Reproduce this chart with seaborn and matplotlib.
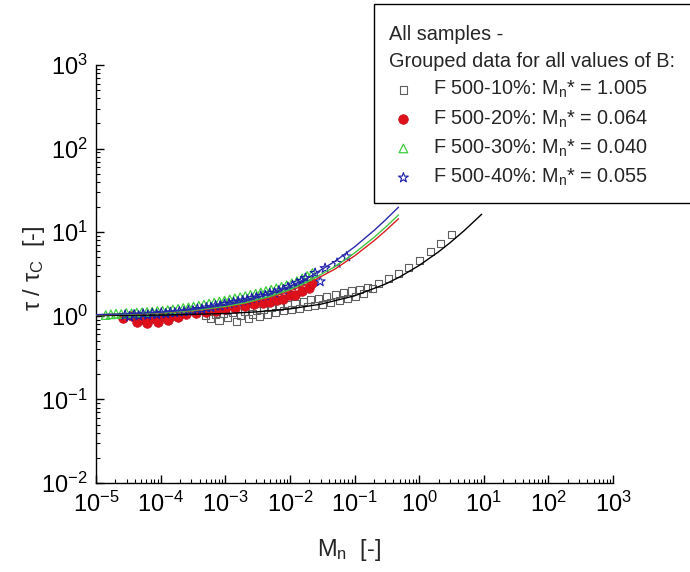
import numpy as np
import pandas as pd
import matplotlib
matplotlib.use("Agg")
import matplotlib.pyplot as plt
from matplotlib.patches import Rectangle
import seaborn as sns

# ---------------- data ----------------
# F 500-10 % : black squares
sq_x = [5.0e-4, 6.0e-4, 7.0e-4, 8.0e-4, 9.5e-4, 1.1e-3, 1.3e-3, 1.5e-3, 1.7e-3, 2.0e-3,
        2.3e-3, 2.6e-3, 3.0e-3, 3.4e-3, 3.9e-3, 4.5e-3, 5.2e-3, 6.0e-3, 7.0e-3, 8.0e-3,
        9.2e-3, 1.05e-2, 1.2e-2, 1.4e-2, 1.6e-2, 1.85e-2, 2.1e-2, 2.4e-2, 2.8e-2, 3.2e-2,
        3.7e-2, 4.3e-2, 5.0e-2, 5.8e-2, 6.7e-2, 7.7e-2, 9.0e-2, 1.05e-1, 1.2e-1, 1.4e-1,
        1.6e-1, 1.9e-1, 2.35e-1, 3.35e-1, 4.8e-1, 6.8e-1, 1.0, 1.48, 2.16, 3.13]
sq_y = [1.00, 0.93, 1.05, 0.88, 1.08, 0.95, 1.10, 0.86, 1.02, 1.12,
        0.92, 1.05, 1.15, 0.98, 1.20, 1.05, 1.25, 1.10, 1.30, 1.15,
        1.35, 1.18, 1.42, 1.22, 1.48, 1.28, 1.55, 1.32, 1.62, 1.38,
        1.70, 1.45, 1.78, 1.52, 1.88, 1.60, 1.98, 1.70, 2.05, 1.85,
        2.20, 2.10, 2.46, 2.82, 3.17, 3.80, 4.57, 5.90, 7.25, 9.50]

# F 500-20 % : red circles
ci_lx = [-4.58, -4.45, -4.37, -4.28, -4.21, -4.12, -4.04, -3.95, -3.89, -3.80,
         -3.73, -3.60, -3.45, -3.30, -3.15, -3.00, -2.85, -2.70, -2.55, -2.42,
         -2.31, -2.20, -2.10, -2.00, -1.92, -1.82, -1.71, -1.66]
ci_y = [0.95, 1.00, 0.85, 0.92, 0.82, 0.95, 0.85, 1.00, 0.90, 1.02,
        0.97, 1.05, 1.08, 1.12, 1.15, 1.20, 1.25, 1.30, 1.38, 1.42,
        1.48, 1.55, 1.60, 1.75, 1.78, 2.00, 2.14, 2.45]

# F 500-30 % : green triangles
tr_lx = [-4.85, -4.77, -4.69, -4.61, -4.53, -4.45, -4.37, -4.29, -4.21, -4.13,
         -4.05, -3.97, -3.89, -3.81, -3.73, -3.65, -3.57, -3.49, -3.41, -3.33,
         -3.25, -3.17, -3.09, -3.01, -2.93, -2.85, -2.77, -2.69, -2.61, -2.53,
         -2.45, -2.37, -2.29, -2.21, -2.13, -2.05, -1.97, -1.89, -1.81, -1.73, -1.65]
tr_y = [1.02, 1.04, 1.06, 1.05, 1.08, 1.07, 1.09, 1.10, 1.11, 1.12,
        1.14, 1.15, 1.17, 1.19, 1.21, 1.24, 1.26, 1.29, 1.32, 1.36,
        1.40, 1.44, 1.48, 1.52, 1.57, 1.62, 1.67, 1.72, 1.78, 1.84,
        1.91, 1.98, 2.05, 2.13, 2.22, 2.32, 2.45, 2.60, 2.80, 3.00, 3.25]

# F 500-40 % : blue stars
st_lx = [-4.55, -4.48, -4.41, -4.34, -4.27, -4.20, -4.13, -4.06, -3.99, -3.92,
         -3.85, -3.78, -3.71, -3.64, -3.57, -3.50, -3.43, -3.36, -3.29, -3.22,
         -3.15, -3.08, -3.01, -2.94, -2.87, -2.80, -2.73, -2.66, -2.59, -2.52,
         -2.45, -2.38, -2.31, -2.24, -2.17, -2.10, -2.03, -1.96, -1.89, -1.82,
         -1.76, -1.61, -1.53, -1.455, -1.27, -1.12]
st_y = [1.02, 0.98, 1.03, 1.00, 1.05, 1.02, 1.06, 1.04, 1.08, 1.06,
        1.10, 1.09, 1.12, 1.12, 1.15, 1.15, 1.20, 1.20, 1.25, 1.26,
        1.32, 1.32, 1.38, 1.40, 1.45, 1.48, 1.52, 1.55, 1.62, 1.65,
        1.72, 1.75, 1.85, 1.88, 2.00, 2.05, 2.20, 2.30, 2.45, 2.60,
        2.82, 3.24, 2.57, 3.70, 4.27, 5.10]

# fitted curves
fit_x_col = [1e-5, 3e-5, 1e-4, 3e-4, 1e-3, 2e-3, 5e-3, 1e-2, 2e-2, 5e-2, 0.1, 0.2, 0.3, 0.48]
fit_blue = [1.032, 1.056, 1.103, 1.181, 1.341, 1.497, 1.832, 2.250, 2.914, 4.486, 6.662, 10.47, 13.98, 19.93]
fit_green = [1.028, 1.048, 1.089, 1.156, 1.294, 1.426, 1.709, 2.058, 2.606, 3.886, 5.634, 8.659, 11.42, 16.08]
fit_red = [1.026, 1.045, 1.083, 1.145, 1.272, 1.395, 1.655, 1.974, 2.473, 3.631, 5.200, 7.900, 10.35, 14.48]
fit_x_blk = [1e-5, 1e-4, 1e-3, 3e-3, 1e-2, 3e-2, 0.1, 0.3, 0.5, 1.0, 2.0, 3.0, 5.0, 9.3]
fit_blk = [1.006, 1.020, 1.064, 1.113, 1.210, 1.376, 1.733, 2.395, 2.914, 4.000, 5.828, 7.464, 10.47, 16.40]

labels = ["F 500-10%: M$_\\mathregular{n}$* = 1.005",
          "F 500-20%: M$_\\mathregular{n}$* = 0.064",
          "F 500-30%: M$_\\mathregular{n}$* = 0.040",
          "F 500-40%: M$_\\mathregular{n}$* = 0.055"]
legend_title = "All samples -\nGrouped data for all values of B:"

# ---------------- style ----------------
sns.set_style("ticks")
plt.rcParams['font.family'] = ['Liberation Sans', 'DejaVu Sans']
plt.rcParams['mathtext.fontset'] = 'custom'
plt.rcParams['mathtext.rm'] = 'Liberation Sans'
plt.rcParams['mathtext.it'] = 'Liberation Sans:italic'
plt.rcParams['mathtext.bf'] = 'Liberation Sans:bold'

fig = plt.figure(figsize=(6.9, 5.72), dpi=100)
W, H = 690, 572
ax = fig.add_axes([96 / W, 1 - 483 / H, (613 - 96) / W, (483 - 65) / H])

# scatter
sns.scatterplot(x=sq_x, y=sq_y, ax=ax, marker='s', s=26, zorder=2)
c_sq = ax.collections[-1]
c_sq.set_facecolor('none'); c_sq.set_edgecolor('#606060'); c_sq.set_linewidth(0.8)

sns.scatterplot(x=10 ** np.array(ci_lx), y=ci_y, ax=ax, marker='o', s=48, zorder=3)
c_ci = ax.collections[-1]
c_ci.set_facecolor('#e0101a'); c_ci.set_edgecolor('#c01020'); c_ci.set_linewidth(0.5)

sns.scatterplot(x=10 ** np.array(tr_lx), y=tr_y, ax=ax, marker='^', s=38, zorder=3)
c_tr = ax.collections[-1]
c_tr.set_facecolor('none'); c_tr.set_edgecolor('#3ccc3c'); c_tr.set_linewidth(0.9)

sns.scatterplot(x=10 ** np.array(st_lx), y=st_y, ax=ax, marker='*', s=55, zorder=4)
c_st = ax.collections[-1]
c_st.set_facecolor('none'); c_st.set_edgecolor('#1c1ca8'); c_st.set_linewidth(0.8)

# fitted lines
sns.lineplot(x=fit_x_blk, y=fit_blk, ax=ax, color='black', lw=1.0, sort=False, estimator=None, zorder=5)
sns.lineplot(x=fit_x_col, y=fit_red, ax=ax, color='#d82020', lw=1.0, sort=False, estimator=None, zorder=5)
sns.lineplot(x=fit_x_col, y=fit_green, ax=ax, color='#44c444', lw=1.0, sort=False, estimator=None, zorder=5)
sns.lineplot(x=fit_x_col, y=fit_blue, ax=ax, color='#2a2aa8', lw=1.0, sort=False, estimator=None, zorder=5)

ax.set_xscale('log'); ax.set_yscale('log')
ax.set_xlim(1e-5, 1e3); ax.set_ylim(1e-2, 1e3)
ax.xaxis.set_major_locator(matplotlib.ticker.LogLocator(base=10, numticks=20))
ax.xaxis.set_minor_locator(matplotlib.ticker.LogLocator(base=10, subs=np.arange(2, 10), numticks=100))
ax.yaxis.set_major_locator(matplotlib.ticker.LogLocator(base=10, numticks=20))
ax.yaxis.set_minor_locator(matplotlib.ticker.LogLocator(base=10, subs=np.arange(2, 10), numticks=100))
ax.xaxis.set_minor_formatter(matplotlib.ticker.NullFormatter())
ax.yaxis.set_minor_formatter(matplotlib.ticker.NullFormatter())

for s in ['top', 'right']:
    ax.spines[s].set_visible(False)
for s in ['left', 'bottom']:
    ax.spines[s].set_color('black'); ax.spines[s].set_linewidth(1.0)
ax.tick_params(which='major', direction='in', length=6, width=1.0, labelsize=17, colors='black', pad=6)
ax.tick_params(which='minor', direction='in', length=3, width=0.8, colors='black')
ax.set_xlabel("M$_\\mathregular{n}$  [-]", fontsize=17)
ax.set_ylabel("τ / τ$_\\mathregular{C}$  [-]", fontsize=17)
ax.xaxis.set_label_coords(0.49, -0.128)
ax.yaxis.set_label_coords(-0.095, 0.515)
ax.patch.set_alpha(0)
fig.patch.set_facecolor('white')

# legend box (extends past the right edge of the figure)
ax.add_patch(Rectangle((374 / W, 1 - 203 / H), (720 - 374) / W, (203 - 4) / H,
                       transform=fig.transFigure, facecolor='white', edgecolor='black',
                       linewidth=1.0, zorder=8, clip_on=False))
leg = ax.legend([c_sq, c_ci, c_tr, c_st], labels, title=legend_title,
                loc='upper left', bbox_to_anchor=(389 / W, 1 - 25 / H),
                bbox_transform=fig.transFigure, frameon=False, fontsize=14.3,
                title_fontsize=14.3, alignment='left', borderpad=0, handlelength=1.45,
                handletextpad=0.75, labelspacing=0.40, borderaxespad=0)
leg.get_title().set_linespacing(1.55)
leg.set_zorder(10)

fig.savefig("out.png", dpi=100)
